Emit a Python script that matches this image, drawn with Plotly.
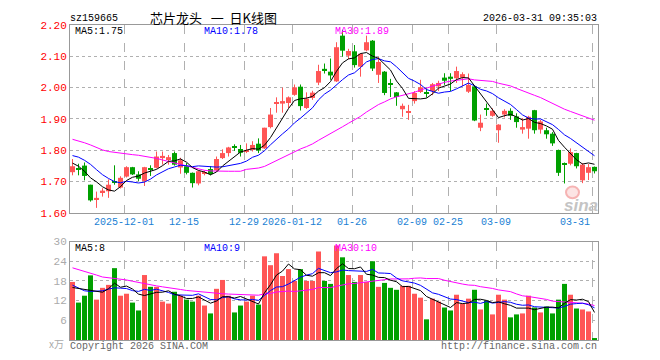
import math
import numpy as np
import plotly.graph_objects as go

# ---------------- data ----------------
opens = [1.730, 1.742, 1.751, 1.690, 1.644, 1.666, 1.669, 1.701, 1.681, 1.716,
         1.746, 1.723, 1.702, 1.740, 1.744, 1.775, 1.772, 1.791, 1.745, 1.749,
         1.728, 1.694, 1.725, 1.740, 1.736, 1.775, 1.791, 1.810, 1.804, 1.796,
         1.801, 1.821, 1.806, 1.874, 1.948, 1.949, 1.951, 1.977, 2.003, 1.935,
         1.967, 2.016, 2.060, 2.051, 2.020, 2.166, 2.102, 2.116, 2.067, 2.119,
         2.150, 2.041, 2.051, 2.013, 1.985, 1.931, 1.919, 1.957, 1.986, 1.985,
         1.989, 2.004, 2.032, 2.035, 2.030, 2.032, 1.987, 2.004, 1.872, 1.932,
         1.910, 1.864, 1.914, 1.926, 1.908, 1.866, 1.869, 1.928, 1.866, 1.864,
         1.853, 1.801, 1.757, 1.757, 1.791, 1.704, 1.728, 1.747]
highs = [1.772, 1.757, 1.761, 1.690, 1.668, 1.679, 1.707, 1.752, 1.717, 1.749,
         1.747, 1.733, 1.747, 1.752, 1.796, 1.796, 1.785, 1.796, 1.776, 1.759,
         1.729, 1.735, 1.735, 1.749, 1.780, 1.803, 1.811, 1.819, 1.817, 1.822,
         1.829, 1.838, 1.872, 1.935, 1.969, 2.000, 1.972, 2.010, 2.010, 1.985,
         1.990, 2.073, 2.077, 2.093, 2.145, 2.185, 2.124, 2.136, 2.110, 2.166,
         2.152, 2.098, 2.053, 2.028, 1.986, 1.949, 1.945, 1.989, 2.025, 1.999,
         2.015, 2.022, 2.046, 2.046, 2.067, 2.049, 2.045, 2.006, 1.914, 1.949,
         1.934, 1.883, 1.931, 1.934, 1.918, 1.903, 1.910, 1.929, 1.897, 1.872,
         1.858, 1.802, 1.761, 1.806, 1.792, 1.759, 1.756, 1.748]
lows = [1.720, 1.720, 1.704, 1.636, 1.616, 1.652, 1.648, 1.690, 1.678, 1.713,
        1.721, 1.702, 1.686, 1.718, 1.742, 1.754, 1.754, 1.751, 1.725, 1.723,
        1.681, 1.688, 1.720, 1.720, 1.733, 1.772, 1.780, 1.798, 1.780, 1.791,
        1.796, 1.791, 1.804, 1.870, 1.920, 1.920, 1.935, 1.974, 1.927, 1.932,
        1.961, 2.008, 2.045, 2.025, 2.018, 2.099, 2.091, 2.064, 2.035, 2.116,
        2.053, 2.015, 1.976, 1.970, 1.942, 1.907, 1.897, 1.949, 1.983, 1.968,
        1.976, 1.989, 2.009, 1.989, 2.015, 2.004, 1.983, 1.893, 1.861, 1.910,
        1.907, 1.824, 1.905, 1.897, 1.872, 1.853, 1.837, 1.853, 1.853, 1.837,
        1.814, 1.718, 1.694, 1.752, 1.742, 1.695, 1.705, 1.726]
closes = [1.749, 1.740, 1.718, 1.640, 1.648, 1.671, 1.690, 1.698, 1.712, 1.746,
          1.723, 1.709, 1.746, 1.737, 1.780, 1.782, 1.778, 1.754, 1.768, 1.728,
          1.695, 1.733, 1.729, 1.724, 1.772, 1.791, 1.809, 1.808, 1.792, 1.801,
          1.817, 1.799, 1.872, 1.914, 1.954, 1.957, 1.969, 2.001, 1.941, 1.965,
          1.984, 2.053, 2.056, 2.039, 2.129, 2.118, 2.117, 2.072, 2.108, 2.145,
          2.061, 2.082, 1.983, 2.010, 1.970, 1.942, 1.924, 1.983, 2.001, 1.982,
          2.011, 2.015, 2.022, 2.028, 2.053, 2.043, 2.009, 1.895, 1.888, 1.930,
          1.926, 1.882, 1.926, 1.910, 1.890, 1.874, 1.907, 1.864, 1.892, 1.851,
          1.822, 1.728, 1.755, 1.794, 1.749, 1.754, 1.746, 1.733]
volumes = [17.7, 11.4, 13.5, 19.7, 12.3, 15.9, 16.8, 21.9, 13.5, 14.1,
           11.4, 9.0, 19.8, 16.2, 16.2, 11.7, 11.1, 14.7, 13.5, 12.3,
           11.7, 13.5, 10.5, 8.1, 15.6, 18.3, 13.5, 8.4, 10.5, 11.7,
           13.5, 10.8, 25.5, 22.8, 26.4, 19.5, 21.6, 18.0, 21.6, 18.0,
           18.0, 27.0, 18.0, 17.1, 28.8, 25.2, 19.8, 17.7, 19.8, 17.7,
           24.0, 16.2, 17.4, 15.9, 15.3, 16.5, 16.5, 14.1, 12.9, 6.3,
           12.6, 11.7, 9.9, 9.0, 13.8, 11.1, 12.6, 15.3, 9.3, 12.0,
           7.8, 13.8, 12.3, 6.9, 7.8, 8.1, 13.5, 9.9, 8.4, 10.2,
           8.1, 12.3, 17.1, 13.8, 9.6, 9.3, 8.7, 0.6]

# moving-average values at the start of the window (read from the chart,
# they depend on sessions before the first visible one)
ma5_head = [1.759, 1.749, 1.733, 1.712]
ma10_head = [1.783, 1.778, 1.768, 1.755, 1.738, 1.722, 1.710, 1.700, 1.696]
ma30_head = [1.835, 1.830, 1.824, 1.817, 1.809, 1.801, 1.796, 1.793, 1.791, 1.789,
             1.786, 1.784, 1.781, 1.778, 1.774, 1.769, 1.764, 1.759, 1.755, 1.751,
             1.746, 1.741, 1.736, 1.734, 1.733, 1.733, 1.733, 1.733, 1.733]
vma5_head = [16.0, 15.7, 15.4, 15.2]
vma10_head = [16.7, 15.9, 15.0, 14.8, 14.8, 15.0, 15.5, 15.9, 15.8]
vma30_head = [22.0, 21.5, 21.0, 20.4, 19.8, 19.2, 19.0, 18.9, 18.6, 18.3,
              17.9, 17.5, 17.1, 16.8, 16.5, 16.2, 16.0, 15.7, 15.4, 15.1,
              14.9, 14.7, 14.5, 14.3, 14.2, 14.1, 14.0, 13.9, 13.9]

price_ticks = [1.60, 1.70, 1.80, 1.90, 2.00, 2.10, 2.20]
vol_ticks = [6, 12, 18, 24, 30]
date_tick_idx = [9, 19, 29, 37, 47, 57, 63, 71, 87]
date_tick_text = ["2025-12-01", "12-15", "12-29", "2026-01-12", "01-26",
                  "02-09", "02-25", "03-09", "03-31"]

# ---------------- helpers ----------------
def moving_average(vals, n, head):
    arr = np.array(vals, dtype=float)
    out = np.convolve(arr, np.ones(n) / n, mode="valid")
    return list(head) + list(out)

def trunc(v, d):
    f = 10 ** d
    return math.floor(v * f + 1e-9) / f

n = len(closes)
xs = list(range(n))
ma5 = moving_average(closes, 5, ma5_head)
ma10 = moving_average(closes, 10, ma10_head)
ma30 = moving_average(closes, 30, ma30_head)
vma5 = moving_average(volumes, 5, vma5_head)
vma10 = moving_average(volumes, 10, vma10_head)
vma30 = moving_average(volumes, 30, vma30_head)

RED = "#ff5555"
GREEN = "#00a000"
up = [c >= o for o, c in zip(opens, closes)]
colors = [RED if u else GREEN for u in up]

MONO = "Liberation Mono, DejaVu Sans Mono, monospace"
BW = 0.833

fig = go.Figure()

# wicks
for flag, col in ((True, RED), (False, GREEN)):
    wx, wy = [], []
    for i in xs:
        if up[i] == flag:
            wx += [i, i, None]
            wy += [lows[i], highs[i], None]
    fig.add_trace(go.Scatter(x=wx, y=wy, mode="lines", line=dict(color=col, width=1),
                             hoverinfo="skip", showlegend=False, xaxis="x", yaxis="y"))

# candle bodies
body_base = [min(o, c) for o, c in zip(opens, closes)]
body_h = [max(abs(c - o), 0.0032) for o, c in zip(opens, closes)]
fig.add_trace(go.Bar(x=xs, y=body_h, base=body_base, width=BW,
                     marker=dict(color=colors, line=dict(width=0)),
                     showlegend=False, xaxis="x", yaxis="y"))

# price MAs
for vals, col in ((ma30, "#ff00ff"), (ma10, "#0000ff"), (ma5, "#000000")):
    fig.add_trace(go.Scatter(x=xs, y=vals, mode="lines", line=dict(color=col, width=1),
                             hoverinfo="skip", showlegend=False, xaxis="x", yaxis="y"))

# volume
fig.add_trace(go.Bar(x=xs, y=volumes, width=BW,
                     marker=dict(color=colors, line=dict(width=0)),
                     showlegend=False, xaxis="x2", yaxis="y2"))
for vals, col in ((vma30, "#ff00ff"), (vma10, "#0000ff"), (vma5, "#000000")):
    fig.add_trace(go.Scatter(x=xs, y=vals, mode="lines", line=dict(color=col, width=1),
                             hoverinfo="skip", showlegend=False, xaxis="x2", yaxis="y2"))

grid_x = [i - 0.4 for i in date_tick_idx]
xr = [-0.417, n - 0.417]

axis_common = dict(showline=True, linecolor="#999999", linewidth=1, mirror=True,
                   zeroline=False, fixedrange=True)

# page has an 8px body margin: plot area spans page x 70..598, y 20..340
fig.update_layout(
    width=660, height=360,
    margin=dict(l=62, r=70, t=12, b=28),
    paper_bgcolor="white", plot_bgcolor="white",
    barmode="overlay", showlegend=False,
    xaxis=dict(domain=[0, 1], range=xr, tickvals=grid_x, showticklabels=False,
               ticks="", showgrid=True, gridcolor="#b0b0b0", griddash="dash",
               gridwidth=1, anchor="y", **axis_common),
    yaxis=dict(domain=[0.4035, 1.0], range=[1.60, 2.20], tickvals=price_ticks,
               ticktext=[f"{v:.2f}" for v in price_ticks], ticks="",
               tickfont=dict(family=MONO, size=11, color="#ff0000"),
               showgrid=True, gridcolor="#b0b0b0", griddash="dot", gridwidth=1,
               anchor="x", **axis_common),
    xaxis2=dict(domain=[0, 1], range=xr, tickvals=grid_x, showticklabels=False,
                ticks="", showgrid=True, gridcolor="#b0b0b0", griddash="dash",
                gridwidth=1, anchor="y2", **axis_common),
    yaxis2=dict(domain=[0, 0.3125], range=[0, 30], tickvals=vol_ticks,
                ticktext=[str(v) for v in vol_ticks], ticks="",
                tickfont=dict(family=MONO, size=11, color="#aaaaaa"),
                showgrid=True, gridcolor="#b0b0b0", griddash="dot", gridwidth=1,
                anchor="x2", **axis_common),
)

def px_x(p):
    return (p - 70) / 528.0

def px_y(p):
    return (340 - p) / 320.0

ann = []
def text(x, y, s, color="#000000", size=10, anchor="left", family=MONO, **kw):
    ann.append(dict(x=px_x(x), y=px_y(y), xref="paper", yref="paper", text=s,
                    showarrow=False, xanchor=anchor, yanchor="middle", borderpad=0,
                    font=dict(family=family, size=size, color=color), **kw))

NB = "\u00a0"
text(69, 13, "sz159665", size=10)
text(213, 12, f"芯片龙头{NB}{NB}{NB}一{NB}{NB}日K线图", size=13, anchor="center",
     family="Noto Sans CJK SC, sans-serif")
text(598, 13, "2026-03-31 09:35:03", size=10, anchor="right")
text(74, 27, f"MA5:{trunc(ma5[-1], 2):.2f}", size=10)
text(203, 27, f"MA10:{trunc(ma10[-1], 2):.2f}", size=10, color="#0000ff")
text(334, 27, f"MA30:{trunc(ma30[-1], 2):.2f}", size=10, color="#ff00ff")
text(74, 247, f"MA5:{int(vma5[-1])}", size=10)
text(203, 247, f"MA10:{int(vma10[-1])}", size=10, color="#0000ff")
text(334, 247, f"MA30:{int(vma30[-1])}", size=10, color="#ff00ff")
text(65, 344, "x万", size=10, color="#aaaaaa", anchor="right",
     family="Noto Sans CJK SC, sans-serif")
text(69, 347, "Copyright 2026 SINA.COM", size=10, color="#666666")
text(598, 347, "http://finance.sina.com.cn", size=10, color="#666666", anchor="right")
text(581, 203, "<b><i>sina</i></b>", size=17, color="#c4c4c4", anchor="center",
     family="Arial, Liberation Sans, sans-serif")

# date labels under the price pane
for k, (idx, lab) in enumerate(zip(date_tick_idx, date_tick_text)):
    last = k == len(date_tick_idx) - 1
    ann.append(dict(x=idx - 0.4, y=px_y(221), xref="x", yref="paper", text=lab,
                    showarrow=False, xanchor="right" if last else "center",
                    yanchor="middle", xshift=-1 if last else 0, borderpad=0,
                    font=dict(family=MONO, size=10, color="#1a7fd4")))

fig.update_layout(annotations=ann)

# sina eye logo (decorative)
fig.add_shape(type="circle", xref="paper", yref="paper",
              x0=px_x(566), x1=px_x(579), y0=px_y(196), y1=px_y(184),
              line=dict(color="#f6b3b3", width=2), fillcolor="rgba(246,179,179,0.35)")

fig.write_html("out.html")
